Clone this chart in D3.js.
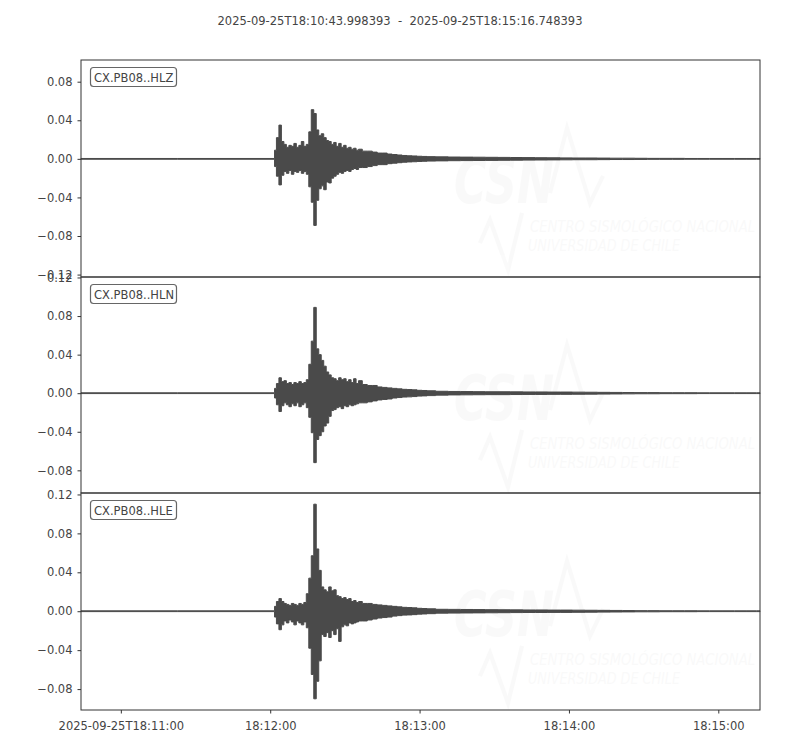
<html>
<meta charset="utf-8" />
<head>
<title>CX.PB08 HL*</title>
<script src="https://cdn.jsdelivr.net/npm/d3@7"></script>
<style>
	body { margin: 0; background: #fff; }
	text { font-family: 'DejaVu Sans', sans-serif; }
</style>

<script>
// seconds after 2025-09-25T18:10:43.998393
const times = [0, 77.5,
	78, 79, 80, 81, 82, 83, 84, 85, 86, 87, 88, 89,
	90, 91, 92, 93, 94, 95, 96, 97, 98, 99, 100, 101,
	102, 103, 104, 105, 106, 107, 108, 109, 110, 111, 112,
	114, 116, 118, 120, 122, 124, 126, 128, 130, 132, 134, 136, 138, 140,
	145, 150, 155, 160, 165, 170, 175, 180, 185, 190, 195, 200,
	205, 210, 215, 220, 225, 230, 235, 240, 245, 250, 255, 260, 265, 270, 272.75];

// envelope (max / min) of each trace
const hlzMax = [0.0004, 0.0004,
	0.009, 0.022, 0.035, 0.018, 0.015, 0.012, 0.014, 0.013, 0.016, 0.012, 0.014, 0.018,
	0.013, 0.015, 0.028, 0.051, 0.047, 0.030, 0.024, 0.026, 0.022, 0.019, 0.018, 0.015,
	0.017, 0.013, 0.016, 0.012, 0.014, 0.011, 0.012, 0.010, 0.011, 0.009, 0.010,
	0.008, 0.008, 0.007, 0.006, 0.006, 0.005, 0.0045, 0.004, 0.0035, 0.0032, 0.003, 0.0027, 0.0025, 0.0023,
	0.0021, 0.0019, 0.0018, 0.0017, 0.0016, 0.0015, 0.0014, 0.0013, 0.0012, 0.0011, 0.001, 0.0009,
	0.0009, 0.0008, 0.0007, 0.0007, 0.0006, 0.0005, 0.0005, 0.0005, 0.0004, 0.0004, 0.0004, 0.0004, 0.0004, 0.0004, 0.0004];
const hlzMin = [-0.0004, -0.0004,
	-0.008, -0.018, -0.027, -0.017, -0.013, -0.015, -0.012, -0.016, -0.013, -0.014, -0.012, -0.015,
	-0.013, -0.016, -0.029, -0.045, -0.069, -0.043, -0.031, -0.028, -0.032, -0.024, -0.025, -0.020,
	-0.018, -0.016, -0.014, -0.015, -0.013, -0.012, -0.013, -0.011, -0.010, -0.011, -0.009,
	-0.009, -0.008, -0.007, -0.006, -0.006, -0.005, -0.0045, -0.004, -0.0035, -0.0032, -0.003, -0.0027, -0.0025, -0.0023,
	-0.0021, -0.0019, -0.0018, -0.0017, -0.0016, -0.0015, -0.0014, -0.0013, -0.0012, -0.0011, -0.001, -0.0009,
	-0.0009, -0.0008, -0.0007, -0.0007, -0.0006, -0.0005, -0.0005, -0.0005, -0.0004, -0.0004, -0.0004, -0.0004, -0.0004, -0.0004, -0.0004];

const hlnMax = [0.0004, 0.0004,
	0.005, 0.010, 0.016, 0.012, 0.013, 0.010, 0.011, 0.009, 0.011, 0.010, 0.012, 0.010,
	0.011, 0.014, 0.030, 0.054, 0.089, 0.046, 0.040, 0.034, 0.028, 0.022, 0.019, 0.016,
	0.015, 0.013, 0.016, 0.014, 0.015, 0.012, 0.014, 0.011, 0.015, 0.010, 0.013,
	0.009, 0.008, 0.008, 0.0065, 0.006, 0.0055, 0.005, 0.0045, 0.004, 0.0038, 0.0035, 0.003, 0.0028, 0.0025,
	0.002, 0.0018, 0.0017, 0.0016, 0.0015, 0.0015, 0.0014, 0.0013, 0.0013, 0.0012, 0.0012, 0.0011,
	0.001, 0.0009, 0.0008, 0.0007, 0.0006, 0.0006, 0.0005, 0.0005, 0.0005, 0.0004, 0.0004, 0.0004, 0.0004, 0.0004, 0.0004];
const hlnMin = [-0.0004, -0.0004,
	-0.005, -0.012, -0.019, -0.013, -0.010, -0.012, -0.014, -0.011, -0.013, -0.010, -0.014, -0.012,
	-0.010, -0.015, -0.025, -0.041, -0.072, -0.048, -0.044, -0.040, -0.034, -0.031, -0.024, -0.018,
	-0.017, -0.015, -0.014, -0.016, -0.013, -0.014, -0.012, -0.013, -0.012, -0.011, -0.010,
	-0.010, -0.009, -0.008, -0.007, -0.0065, -0.006, -0.005, -0.0045, -0.004, -0.0038, -0.0035, -0.003, -0.0028, -0.0025,
	-0.002, -0.0018, -0.0017, -0.0016, -0.0015, -0.0015, -0.0014, -0.0013, -0.0013, -0.0012, -0.0012, -0.0011,
	-0.001, -0.0009, -0.0008, -0.0007, -0.0006, -0.0006, -0.0005, -0.0005, -0.0005, -0.0004, -0.0004, -0.0004, -0.0004, -0.0004, -0.0004];

const hleMax = [0.0004, 0.0004,
	0.005, 0.010, 0.013, 0.010, 0.008, 0.007, 0.006, 0.008, 0.007, 0.006, 0.008, 0.007,
	0.009, 0.018, 0.034, 0.057, 0.110, 0.064, 0.042, 0.025, 0.022, 0.020, 0.025, 0.021,
	0.022, 0.016, 0.015, 0.013, 0.014, 0.012, 0.013, 0.010, 0.011, 0.009, 0.010,
	0.008, 0.008, 0.007, 0.0065, 0.006, 0.0055, 0.005, 0.0045, 0.004, 0.0038, 0.0035, 0.003, 0.0028, 0.0025,
	0.002, 0.0019, 0.0018, 0.0017, 0.0016, 0.0015, 0.0014, 0.0013, 0.0013, 0.0012, 0.0012, 0.0011,
	0.001, 0.0009, 0.0008, 0.0007, 0.0006, 0.0006, 0.0005, 0.0005, 0.0005, 0.0004, 0.0004, 0.0004, 0.0004, 0.0004, 0.0004];
const hleMin = [-0.0004, -0.0004,
	-0.006, -0.013, -0.019, -0.014, -0.010, -0.012, -0.009, -0.011, -0.014, -0.010, -0.012, -0.014,
	-0.011, -0.017, -0.038, -0.065, -0.090, -0.072, -0.051, -0.024, -0.026, -0.022, -0.027, -0.020,
	-0.024, -0.018, -0.031, -0.016, -0.014, -0.015, -0.012, -0.013, -0.012, -0.011, -0.010,
	-0.010, -0.009, -0.008, -0.007, -0.0065, -0.006, -0.005, -0.0045, -0.004, -0.0038, -0.0035, -0.003, -0.0028, -0.0025,
	-0.002, -0.0019, -0.0018, -0.0017, -0.0016, -0.0015, -0.0014, -0.0013, -0.0013, -0.0012, -0.0012, -0.0011,
	-0.001, -0.0009, -0.0008, -0.0007, -0.0006, -0.0006, -0.0005, -0.0005, -0.0005, -0.0004, -0.0004, -0.0004, -0.0004, -0.0004, -0.0004];

const channels = ['CX.PB08..HLZ', 'CX.PB08..HLN', 'CX.PB08..HLE'];
const yDomains = [[-0.1225, 0.1025], [-0.1035, 0.1205], [-0.1015, 0.1215]];
const yTicks = [[-0.12, -0.08, -0.04, 0, 0.04, 0.08], [-0.08, -0.04, 0, 0.04, 0.08, 0.12], [-0.08, -0.04, 0, 0.04, 0.08, 0.12]];
const startTime = '2025-09-25T18:10:43.998393';
const endTime = '2025-09-25T18:15:16.748393';
const traceLength = 272.75;

window.onload = function() {
	let svg = d3.select('svg');
	let left = 81, right = 760;
	let panels = [[60, 277], [277, 493], [493, 710]];
	let ink = '#4a4a4a';
	let textColor = '#444';

	let t0 = new Date(Date.UTC(2025, 8, 25, 18, 10, 43, 998));
	let t1 = new Date(+t0 + traceLength * 1000);
	let xScale = d3.scaleUtc().domain([t0, t1]).range([left, right]);
	let xOf = (s) => xScale(new Date(+t0 + s * 1000));

	// 제목 (공백 두 칸 유지)
	svg.append('text')
		.attr('x', 400).attr('y', 25)
		.attr('text-anchor', 'middle')
		.attr('xml:space', 'preserve')
		.style('white-space', 'pre')
		.style('font-size', '11.5px')
		.style('fill', textColor)
		.text(startTime + '  -  ' + endTime);

	let series = [[hlzMax, hlzMin], [hlnMax, hlnMin], [hleMax, hleMin]];

	series.forEach(function(s, i) {
		let top = panels[i][0], bottom = panels[i][1];
		let yScale = d3.scaleLinear().domain(yDomains[i]).range([bottom, top]);
		let g = svg.append('g').attr('class', 'panel');

		// watermark (CSN logo, very faint)
		let wm = g.append('g').attr('transform', 'translate(0,' + top + ')').style('opacity', 0.02);
		wm.append('text').attr('x', 454).attr('y', 143)
			.attr('textLength', 100).attr('lengthAdjust', 'spacingAndGlyphs')
			.style('font-size', '62px').style('font-weight', 'bold').style('font-style', 'italic')
			.style('fill', '#000').text('CSN');
		wm.append('polyline').attr('points', '480,183 490,160 508,210 522,153')
			.style('fill', 'none').style('stroke', '#000').style('stroke-width', 4);
		wm.append('polyline').attr('points', '550,133 567,68 590,143 603,116')
			.style('fill', 'none').style('stroke', '#000').style('stroke-width', 4);
		wm.append('text').attr('x', 530).attr('y', 172)
			.attr('textLength', 225).attr('lengthAdjust', 'spacingAndGlyphs')
			.style('font-size', '15px').style('font-style', 'italic')
			.style('fill', '#000').text('CENTRO SISMOLÓGICO NACIONAL');
		wm.append('text').attr('x', 528).attr('y', 191)
			.attr('textLength', 152).attr('lengthAdjust', 'spacingAndGlyphs')
			.style('font-size', '15px').style('font-style', 'italic')
			.style('fill', '#000').text('UNIVERSIDAD DE CHILE');

		// trace envelope
		let area = d3.area()
			.curve(d3.curveStep)
			.x((d, k) => xOf(times[k]))
			.y0((d, k) => yScale(s[1][k]))
			.y1((d, k) => yScale(s[0][k]));
		g.append('path')
			.datum(times)
			.attr('d', area)
			.style('fill', ink)
			.style('stroke', ink)
			.style('stroke-width', 1)
			.style('stroke-linejoin', 'round');

		// y axis
		let yAxis = d3.axisLeft(yScale).tickValues(yTicks[i]).tickSize(3.5).tickPadding(5).tickFormat(d3.format('.2f'));
		let ya = g.append('g').attr('transform', 'translate(' + left + ',0)').call(yAxis);
		ya.select('.domain').remove();
		ya.selectAll('line').style('stroke', '#333');
		ya.selectAll('text').style('font-size', '11.5px').style('fill', textColor).style('font-family', 'DejaVu Sans');

		// frame
		g.append('rect')
			.attr('x', left).attr('y', top)
			.attr('width', right - left).attr('height', bottom - top)
			.style('fill', 'none').style('stroke', '#333').style('stroke-width', 1);

		// channel label
		g.append('rect')
			.attr('x', 90.5).attr('y', top + 7.5)
			.attr('width', 86).attr('height', 19).attr('rx', 3)
			.style('fill', '#fff').style('stroke', '#666').style('stroke-width', 1.2);
		g.append('text')
			.attr('x', 94).attr('y', top + 21.5)
			.style('font-size', '11.5px').style('fill', textColor)
			.text(channels[i]);
	});

	// x axis (bottom panel only)
	let minutes = d3.utcMinute.range(t0, t1);
	let xAxis = d3.axisBottom(xScale).tickValues(minutes).tickSize(3.5).tickPadding(8)
		.tickFormat((d, i) => i === 0 ? d3.utcFormat('%Y-%m-%dT%H:%M:%S')(d) : d3.utcFormat('%H:%M:%S')(d));
	let xa = svg.append('g').attr('transform', 'translate(0,' + panels[2][1] + ')').call(xAxis);
	xa.select('.domain').remove();
	xa.selectAll('line').style('stroke', '#333');
	xa.selectAll('text').style('font-size', '11.5px').style('fill', textColor).style('font-family', 'DejaVu Sans');
}
</script>
</head>
<body>
<svg width="800" height="750"></svg>
</body>
</html>
